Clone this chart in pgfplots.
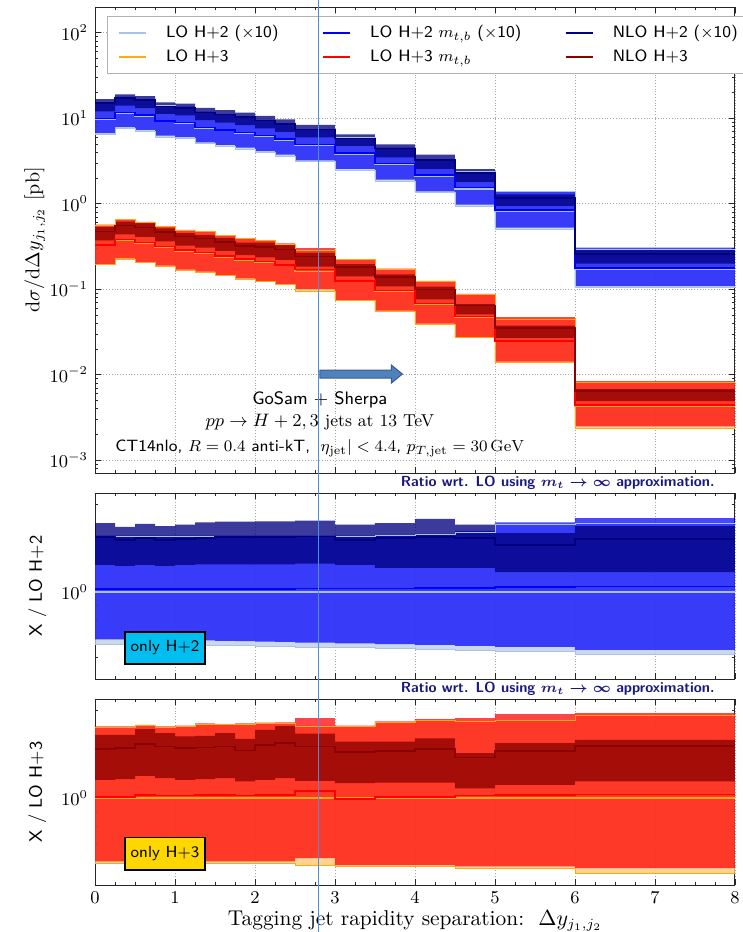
\documentclass[border=0pt]{standalone}
\usepackage{pgfplots}
\pgfplotsset{compat=1.18}
\usepackage{pgfplotstable}
\usepgfplotslibrary{fillbetween}

\definecolor{lotwo}{RGB}{166,196,230}
\definecolor{lotwoband}{RGB}{190,206,228}
\definecolor{navyb}{RGB}{0,0,128}
\definecolor{lothree}{RGB}{255,170,20}
\definecolor{lothreeband}{RGB}{255,200,120}
\definecolor{dred}{RGB}{139,0,0}
\definecolor{ttl}{RGB}{25,25,125}
\definecolor{vline}{RGB}{70,145,225}
\definecolor{arrowfill}{RGB}{79,129,189}
\definecolor{arrowdraw}{RGB}{56,93,138}
\definecolor{boxcyan}{RGB}{0,191,240}
\definecolor{boxgold}{RGB}{255,215,0}

% H+2 (x10): c = LO central [pb]; all other columns are ratios to c
% bins: left edges, last row closes the final bin
\pgfplotstableread{
x    c     lolo  lo   loup mlo   mc    mup  nlo   nc    nup
0.00 9.73  0.666 1.0  1.55 0.690 1.025 1.56 1.24  1.54  1.72
0.25 11.4  0.666 1.0  1.55 0.690 1.025 1.56 1.23  1.51  1.67
0.50 10.6  0.666 1.0  1.55 0.690 1.025 1.56 1.24  1.53  1.71
0.75 9.13  0.664 1.0  1.55 0.688 1.025 1.56 1.23  1.51  1.68
1.00 8.74  0.662 1.0  1.55 0.686 1.025 1.56 1.24  1.52  1.70
1.25 7.64  0.660 1.0  1.55 0.684 1.025 1.56 1.245 1.53  1.73
1.50 7.16  0.658 1.0  1.55 0.682 1.025 1.56 1.245 1.54  1.74
1.75 6.68  0.656 1.0  1.55 0.680 1.025 1.56 1.245 1.54  1.74
2.00 6.10  0.655 1.0  1.55 0.678 1.027 1.56 1.245 1.54  1.745
2.25 5.57  0.653 1.0  1.55 0.676 1.027 1.56 1.245 1.54  1.745
2.50 4.78  0.650 1.0  1.55 0.672 1.030 1.56 1.25  1.55  1.755
3.00 3.82  0.650 1.0  1.55 0.668 1.030 1.56 1.24  1.51  1.70
3.50 2.88  0.644 1.0  1.56 0.665 1.030 1.57 1.21  1.53  1.72
4.00 2.11  0.640 1.0  1.57 0.660 1.035 1.58 1.21  1.54  1.78
4.50 1.49  0.635 1.0  1.60 0.655 1.035 1.62 1.21  1.53  1.70
5.00 0.81  0.627 1.0  1.70 0.650 1.040 1.73 1.17  1.45  1.59
6.00 0.171 0.611 1.0  1.72 0.635 1.045 1.79 1.17  1.52  1.68
8.00 0.171 0.611 1.0  1.72 0.635 1.045 1.79 1.17  1.52  1.68
}\htwo

% H+3: c = LO central [pb]; all other columns are ratios to c
\pgfplotstableread{
x    c       lolo  lo   loup  mlo   mc    mup   nlo   nc    nup
0.00 0.324   0.600 1.0  1.75  0.608 1.010 1.757 1.155 1.47  1.645
0.25 0.377   0.600 1.0  1.75  0.608 1.010 1.757 1.16  1.48  1.645
0.50 0.345   0.600 1.0  1.77  0.608 1.025 1.78  1.19  1.53  1.72
0.75 0.310   0.600 1.0  1.75  0.608 1.020 1.757 1.17  1.50  1.667
1.00 0.280   0.600 1.0  1.76  0.608 1.020 1.77  1.155 1.48  1.625
1.25 0.264   0.600 1.0  1.79  0.608 1.025 1.80  1.16  1.49  1.63
1.50 0.240   0.600 1.0  1.78  0.608 1.025 1.79  1.17  1.50  1.667
1.75 0.220   0.600 1.0  1.79  0.608 1.020 1.80  1.14  1.455 1.595
2.00 0.205   0.600 1.0  1.80  0.608 1.025 1.81  1.155 1.52  1.71
2.25 0.189   0.600 1.0  1.80  0.608 1.025 1.815 1.17  1.54  1.76
2.50 0.161   0.592 1.0  1.765 0.624 1.060 1.875 1.145 1.50  1.66
3.00 0.126   0.585 1.0  1.76  0.590 0.995 1.77  1.125 1.435 1.56
3.50 0.0955  0.585 1.0  1.815 0.590 1.010 1.827 1.13  1.45  1.56
4.00 0.0673  0.585 1.0  1.85  0.590 1.010 1.86  1.13  1.47  1.60
4.50 0.0471  0.575 1.0  1.83  0.585 1.020 1.875 1.08  1.377 1.424
5.00 0.0244  0.575 1.0  1.845 0.585 1.025 1.935 1.11  1.45  1.54
6.00 0.00431 0.555 1.0  1.92  0.577 1.030 1.95  1.14  1.51  1.58
8.00 0.00431 0.555 1.0  1.92  0.577 1.030 1.95  1.14  1.51  1.58
}\hthree

% uncertainty band between two columns, scaled by #6
\newcommand{\myband}[6]{%
  \addplot[draw=none, const plot, forget plot, name path=#1lo] table[x=x, y expr={#6*\thisrow{#3}}] {#2};
  \addplot[draw=none, const plot, forget plot, name path=#1hi] table[x=x, y expr={#6*\thisrow{#4}}] {#2};
  \addplot[#5, forget plot] fill between[of=#1lo and #1hi];
}
% histogram step line of one column, scaled by #4
\newcommand{\mystep}[4]{%
  \addplot[const plot, forget plot, #3] table[x=x, y expr={#4*\thisrow{#2}}] {#1};
}
% a full H+2 group
\newcommand{\grouptwo}[2]{%
  \myband{#2a}{\htwo}{lolo}{loup}{fill=lotwoband, fill opacity=0.8}{#1}
  \myband{#2b}{\htwo}{mlo}{mup}{fill=blue, fill opacity=0.72}{#1}
  \myband{#2c}{\htwo}{nlo}{nup}{fill=navyb, fill opacity=0.77}{#1}
  \mystep{\htwo}{lolo}{lotwo, line width=0.3pt}{#1}
  \mystep{\htwo}{loup}{lotwo, line width=0.4pt}{#1}
  \mystep{\htwo}{lo}{lotwo, line width=0.8pt}{#1}
  \mystep{\htwo}{mc}{blue, line width=0.8pt}{#1}
  \mystep{\htwo}{nc}{navyb, line width=0.8pt}{#1}
}
\newcommand{\groupthree}[2]{%
  \myband{#2a}{\hthree}{lolo}{loup}{fill=lothreeband, fill opacity=0.8}{#1}
  \myband{#2b}{\hthree}{mlo}{mup}{fill=red, fill opacity=0.73}{#1}
  \myband{#2c}{\hthree}{nlo}{nup}{fill=dred, fill opacity=0.77}{#1}
  \mystep{\hthree}{lolo}{lothree, line width=0.3pt}{#1}
  \mystep{\hthree}{loup}{lothree, line width=0.3pt}{#1}
  \mystep{\hthree}{lo}{lothree, line width=0.8pt}{#1}
  \mystep{\hthree}{mc}{red, line width=0.8pt}{#1}
  \mystep{\hthree}{nc}{dred, line width=0.8pt}{#1}
}

\pgfplotsset{
  panel/.style={
    scale only axis, width=320pt, clip mode=individual,
    xmin=0, xmax=8, xtick={0,...,8}, minor x tick num=3,
    tick align=inside, major tick length=3pt, minor tick length=1.6pt,
    grid=major, major grid style={densely dotted, black!35, line width=0.4pt},
    axis line style={black!85, line width=0.5pt},
    every tick/.style={black!85, line width=0.4pt},
    tick label style={font=\fontsize{8.7}{10}\selectfont},
  },
  legend image code/.code={\draw[#1, line width=1.2pt] (0pt,0pt) -- (13.5pt,0pt);},
}

\newcommand{\ratiotitle}{\node[anchor=base east, font=\sffamily\bfseries\boldmath\fontsize{7.3}{8}\selectfont, text=ttl, inner sep=0pt]
  at ([xshift=-10pt, yshift=3.3pt]rel axis cs:1,1) {Ratio wrt. LO using $m_t \rightarrow \infty$ approximation.};}

\begin{document}
\begin{tikzpicture}
\coordinate (imgtop) at (0,0);
\coordinate (imgbot) at (0,-466pt);

% differential cross section
\begin{axis}[panel, at={(47.5pt,-3.5pt)}, anchor=north west, height=233pt,
  ymode=log, ymin=7.1e-4, ymax=200,
  ytick={1e-3,1e-2,1e-1,1,10,100},
  minor ytick={0.0008,0.0009,0.002,0.003,0.004,0.005,0.006,0.007,0.008,0.009,
    0.02,0.03,0.04,0.05,0.06,0.07,0.08,0.09,0.2,0.3,0.4,0.5,0.6,0.7,0.8,0.9,
    2,3,4,5,6,7,8,9,20,30,40,50,60,70,80,90},
  xticklabels={},
  ylabel={$\mathrm{d}\sigma/\mathrm{d}\Delta y_{j_1,j_2}$ [pb]},
  ylabel style={at={(axis description cs:-0.094,0.5)}, anchor=center, font=\fontsize{10}{12}\selectfont},
  legend columns=3, legend cell align=left,
  legend style={at={(axis description cs:0.01875,0.9807)}, anchor=north west,
    draw=black!30, line width=0.6pt, fill=white,
    font=\sffamily\fontsize{8.2}{10}\selectfont,
    inner xsep=5pt, inner ysep=2.25pt, row sep=0pt,
    nodes={inner xsep=0pt, inner ysep=1.75pt, text height=6.4pt, text depth=2.1pt},
    /tikz/every odd column/.append style={column sep=9.5pt},
    /tikz/every even column/.append style={column sep=21.5pt}},
]
\addlegendimage{lotwo}\addlegendentry{LO H+2 ($\times$10)}
\addlegendimage{blue}\addlegendentry{LO H+2 $m_{t,b}$ ($\times$10)}
\addlegendimage{navyb}\addlegendentry{NLO H+2 ($\times$10)}
\addlegendimage{lothree}\addlegendentry{LO H+3}
\addlegendimage{red}\addlegendentry{LO H+3 $m_{t,b}$}
\addlegendimage{dred}\addlegendentry{NLO H+3}

\grouptwo{\thisrow{c}}{tt}
\groupthree{\thisrow{c}}{th}

\node[font=\sffamily\fontsize{9}{10}\selectfont] at (axis cs:2.81,5.07e-3) {GoSam + Sherpa};
\node[font=\fontsize{8.6}{10}\selectfont] at (axis cs:2.81,2.82e-3) {$pp \rightarrow H+2,3$ jets at 13 TeV};
\node[font=\sffamily\fontsize{8.2}{10}\selectfont] at (axis cs:2.81,1.39e-3)
  {CT14nlo, $R=0.4$ anti-kT, $|\eta_{\mathrm{jet}}|<4.4$, $p_{T,\mathrm{jet}}=30\,\mathrm{GeV}$};

\coordinate (arw) at (axis cs:2.81,0.0102);
\coordinate (vtop) at (axis cs:2.79,100);
\end{axis}

% direction arrow
\draw[fill=arrowfill, draw=arrowdraw, line width=0.5pt]
  (arw) ++(0,2pt) -- ++(35.8pt,0) -- ++(0,2.5pt) -- ++(5.5pt,-4.5pt)
  -- ++(-5.5pt,-4.5pt) -- ++(0,2.5pt) -- ++(-35.8pt,0) -- cycle;

% ratio, H+2
\begin{axis}[panel, at={(47.5pt,-246.5pt)}, anchor=north west, height=93pt,
  ymode=log, ymin=0.505, ymax=2.18, ytick={1}, minor ytick={0.6,0.7,0.8,0.9,2},
  xticklabels={},
  ylabel={X / LO H+2},
  ylabel style={at={(axis description cs:-0.09,0.5)}, anchor=center, font=\sffamily\fontsize{9}{10}\selectfont}]
\grouptwo{1}{rt}
\node[draw=black, line width=0.8pt, fill=boxcyan, minimum width=40pt, minimum height=16pt,
  inner sep=0pt, font=\sffamily\fontsize{8}{9}\selectfont] at (axis cs:0.875,0.645) {only H+2};
\ratiotitle
\end{axis}

% ratio, H+3
\begin{axis}[panel, at={(47.5pt,-349.5pt)}, anchor=north west, height=93pt,
  ymode=log, ymin=0.505, ymax=2.18, ytick={1}, minor ytick={0.6,0.7,0.8,0.9,2},
  ylabel={X / LO H+3},
  ylabel style={at={(axis description cs:-0.09,0.5)}, anchor=center, font=\sffamily\fontsize{9}{10}\selectfont},
  xlabel={Tagging jet rapidity separation:\ \ $\Delta y_{j_1,j_2}$},
  xlabel style={at={(axis description cs:0.5,0)}, anchor=base, yshift=-20pt, font=\fontsize{10.7}{12}\selectfont}]
\groupthree{1}{rh}
\node[draw=black, line width=0.8pt, fill=boxgold, minimum width=40pt, minimum height=16pt,
  inner sep=0pt, font=\sffamily\fontsize{8}{9}\selectfont] at (axis cs:0.875,0.646) {only H+3};
\ratiotitle
\end{axis}

\draw[vline, line width=0.6pt] (vtop |- imgtop) -- (vtop |- imgbot);

% fixed page size
\pgfresetboundingbox
\path[use as bounding box] (0,0) rectangle (371.5pt,-466pt);
\end{tikzpicture}
\end{document}
